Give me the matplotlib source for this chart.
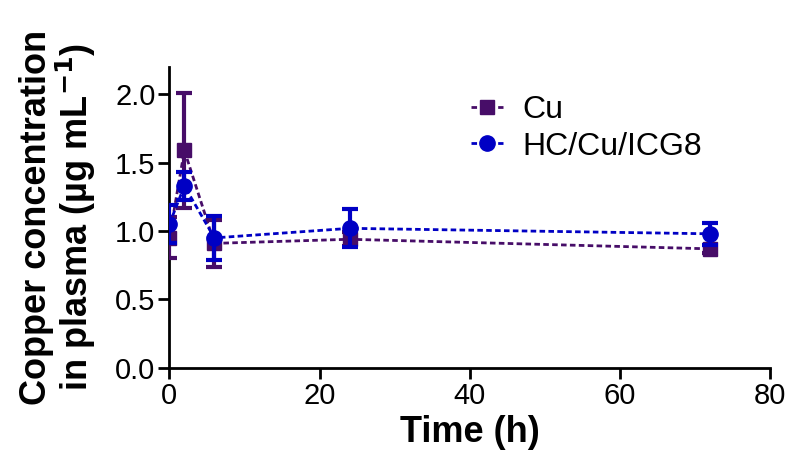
import numpy as np
import matplotlib
matplotlib.use('Agg')
import matplotlib.pyplot as plt
from matplotlib.lines import Line2D

plt.rcParams['font.family'] = ['Liberation Sans', 'DejaVu Sans']

# data
t = [0, 2, 6, 24, 72]
cu = [0.95, 1.59, 0.91, 0.94, 0.87]
cu_err = [0.15, 0.42, 0.17, 0.05, 0.03]
hc = [1.05, 1.33, 0.95, 1.02, 0.98]
hc_err = [0.14, 0.10, 0.16, 0.14, 0.08]

c_cu = '#470D68'
c_hc = '#0000C4'
dash = (0, (2, 1.2))

fig = plt.figure(figsize=(7.95, 4.68), dpi=100)
ax = fig.add_axes([0.213, 0.214, 0.756, 0.643])

ax.errorbar(t, cu, yerr=cu_err, color=c_cu, marker='s', markersize=10,
            linestyle=dash, linewidth=2, elinewidth=3, capsize=6,
            capthick=3, zorder=3)
ax.errorbar(t, hc, yerr=hc_err, color=c_hc, marker='o', markersize=11,
            linestyle=dash, linewidth=2, elinewidth=3, capsize=6,
            capthick=3, zorder=4)

ax.set_xlim(0, 80)
ax.set_ylim(0, 2.2)
ax.set_xticks([0, 20, 40, 60, 80])
ax.set_yticks([0.0, 0.5, 1.0, 1.5, 2.0])
ax.set_yticklabels(['0.0', '0.5', '1.0', '1.5', '2.0'])
ax.spines['top'].set_visible(False)
ax.spines['right'].set_visible(False)
ax.spines['left'].set_linewidth(2)
ax.spines['bottom'].set_linewidth(2)
ax.tick_params(width=2, length=8, labelsize=21, pad=2)

ax.set_xlabel('Time (h)', fontsize=26, fontweight='bold', labelpad=4)
ax.set_ylabel('Copper concentration\nin plasma (\u00b5g mL$^{\\mathbf{-1}}$)',
              fontsize=26, fontweight='bold', labelpad=12, linespacing=1.0)

handles = [Line2D([], [], color=c_cu, marker='s', markersize=10, linestyle=dash, linewidth=2),
           Line2D([], [], color=c_hc, marker='o', markersize=11, linestyle=dash, linewidth=2)]
ax.legend(handles, ['Cu', 'HC/Cu/ICG8'], loc='upper left', bbox_to_anchor=(0.47, 0.97),
          frameon=False, fontsize=23, handlelength=1.0, handletextpad=0.6,
          labelspacing=0.2, borderaxespad=0.2)

fig.savefig('out.png', dpi=100)
